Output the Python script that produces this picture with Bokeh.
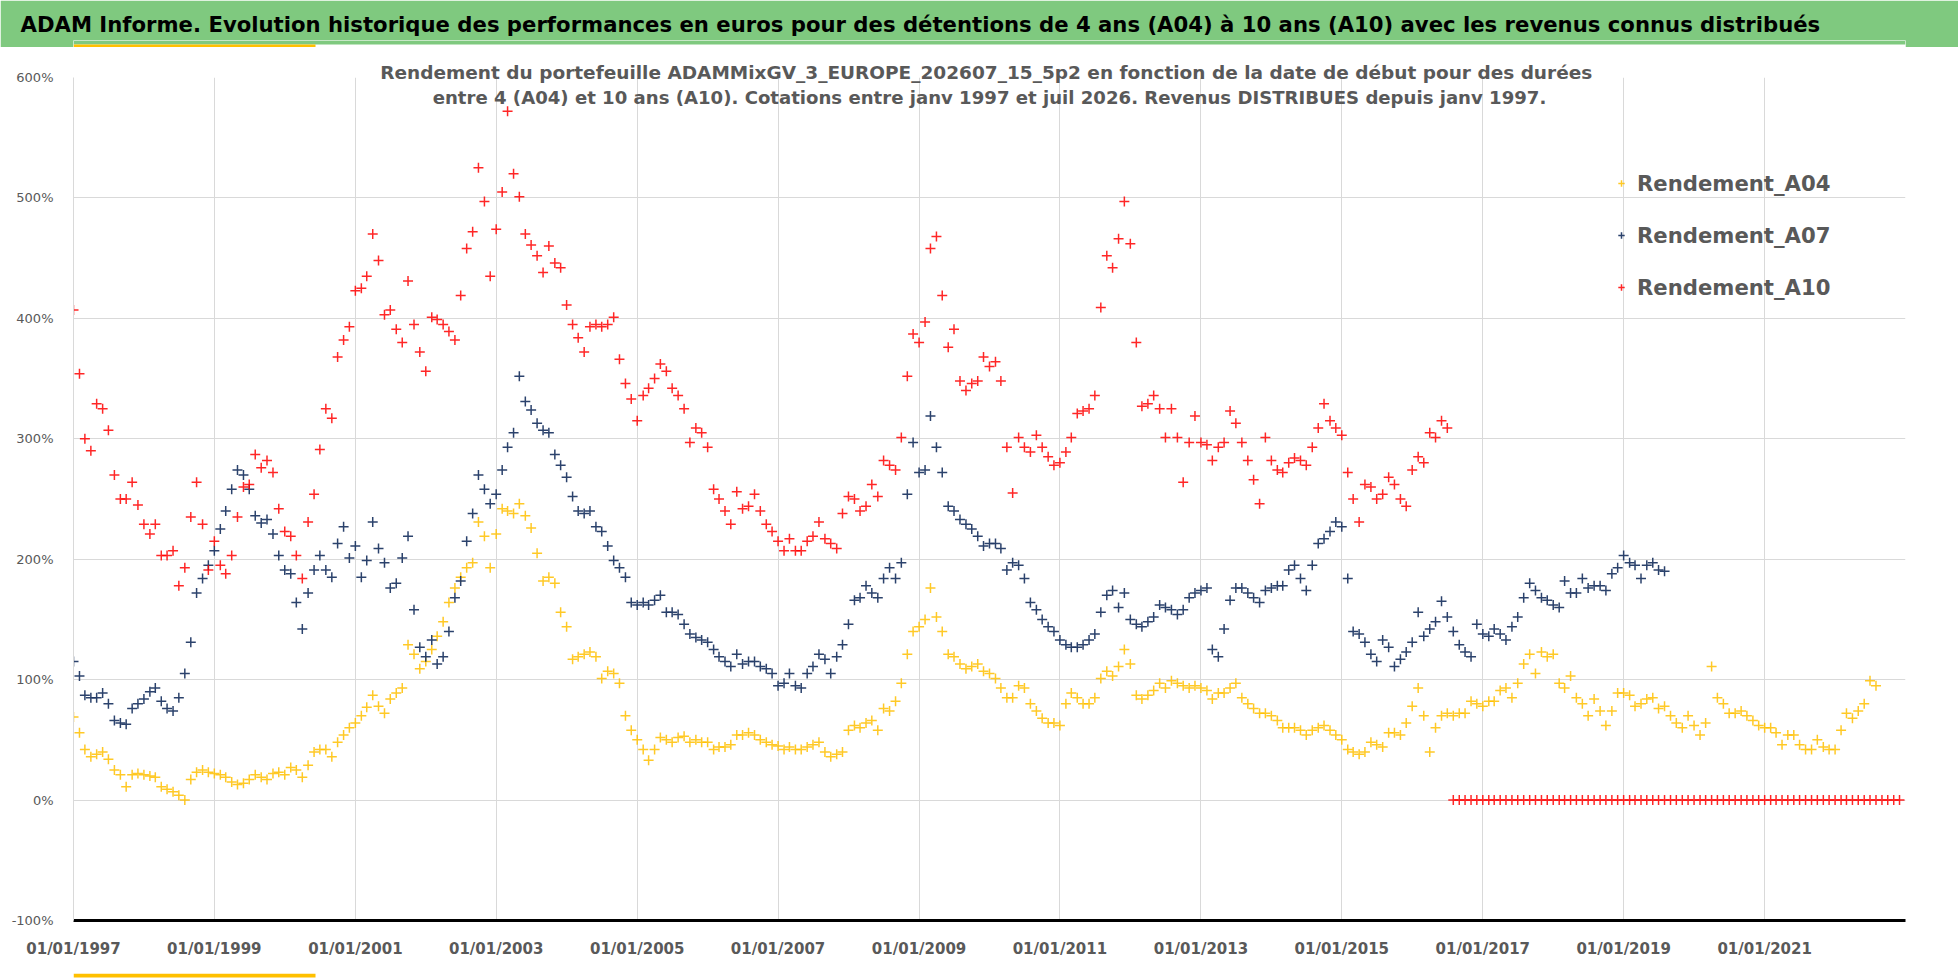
from datetime import datetime
import pandas as pd
from bokeh.plotting import figure
from bokeh.layouts import column
from bokeh.models import (Range1d, FixedTicker, DatetimeTickFormatter, PrintfTickFormatter,
                          Label, BoxAnnotation, Legend, LegendItem, ColumnDataSource, Title)
from bokeh.embed import file_html
from bokeh.resources import INLINE

TITLE = ("ADAM Informe. Evolution historique des performances en euros pour des détentions "
         "de 4 ans (A04) à 10 ans (A10) avec les revenus connus distribués")
SUB1 = ("Rendement du portefeuille ADAMMixGV_3_EUROPE_202607_15_5p2  en fonction de la date "
        "de début pour des durées")
SUB2 = ("entre 4 (A04) et 10 ans (A10). Cotations entre janv 1997 et juil 2026. "
        "Revenus DISTRIBUES depuis janv 1997.")
SERIES_NAMES = ["Rendement_A04", "Rendement_A07", "Rendement_A10"]
Y_TICKS = [-100, 0, 100, 200, 300, 400, 500, 600]
X_TICK_YEARS = [1997, 1999, 2001, 2003, 2005, 2007, 2009, 2011, 2013, 2015, 2017, 2019, 2021]
START = "1997-01-01"   # monthly start dates (first of month)

# Rendement A04 (%), monthly from Jan 1997 to Aug 2022
a04 = [
    69, 56, 42, 36, 38, 40, 34, 25, 21, 11, 21, 22,
    21, 20, 19, 11, 9, 7, 4, 0, 17, 23, 25, 23,
    22, 21, 19, 15, 13, 14, 17, 21, 19, 17, 22, 23,
    21, 27, 25, 19, 29, 40, 42, 42, 36, 48, 54, 60,
    64, 70, 77, 87, 78, 72, 84, 89, 93, 129, 121, 109,
    115, 125, 136, 148, 164, 176, 185, 193, 197, 231, 219, 193,
    221, 242, 240, 238, 246, 236, 226, 205, 182, 185, 180, 156,
    144, 117, 119, 121, 123, 119, 101, 107, 105, 97, 70, 58,
    50, 42, 33, 42, 52, 50, 48, 52, 53, 48, 50, 48,
    48, 42, 44, 44, 46, 54, 54, 56, 54, 50, 48, 46,
    45, 42, 44, 42, 42, 44, 46, 48, 40, 36, 38, 40,
    58, 62, 60, 64, 66, 58, 76, 74, 82, 97, 121, 140,
    144, 150, 176, 152, 140, 121, 119, 113, 109, 111, 113, 107,
    105, 101, 93, 85, 85, 95, 93, 80, 74, 68, 64, 64,
    62, 80, 89, 85, 80, 80, 85, 101, 107, 103, 111, 125,
    113, 87, 84, 87, 91, 97, 93, 99, 97, 95, 93, 95,
    93, 91, 84, 89, 89, 93, 97, 85, 80, 76, 72, 72,
    70, 66, 60, 60, 60, 58, 54, 58, 60, 62, 58, 54,
    50, 42, 40, 38, 40, 48, 46, 44, 56, 56, 54, 64,
    78, 93, 70, 40, 60, 70, 72, 70, 72, 72, 82, 80,
    78, 82, 82, 91, 93, 85, 97, 113, 121, 105, 123, 119,
    121, 97, 93, 103, 85, 80, 70, 84, 74, 62, 74, 89,
    89, 87, 78, 80, 84, 85, 76, 78, 70, 64, 60, 70,
    62, 54, 64, 111, 85, 80, 72, 72, 74, 70, 66, 62,
    60, 60, 56, 46, 54, 54, 46, 42, 42, 50, 44, 42,
    42, 58, 72, 68, 74, 80, 99, 95,
]

# Rendement A07 (%), monthly from Jan 1997 to Aug 2019
a07 = [
    115, 103, 87, 85, 85, 89, 80, 66, 64, 63, 76, 80,
    84, 90, 93, 82, 76, 74, 85, 105, 131, 172, 184, 195,
    207, 225, 240, 258, 274, 270, 258, 236, 230, 233, 221, 203,
    191, 188, 164, 142, 172, 191, 203, 191, 185, 213, 227, 201,
    211, 185, 199, 231, 209, 197, 176, 180, 201, 219, 158, 127,
    119, 133, 113, 119, 140, 168, 182, 215, 238, 270, 258, 246,
    254, 274, 293, 305, 352, 331, 324, 313, 307, 305, 287, 278,
    268, 252, 240, 238, 240, 227, 223, 211, 199, 193, 185, 164,
    162, 164, 162, 166, 170, 156, 156, 154, 146, 138, 135, 133,
    131, 125, 119, 115, 111, 121, 113, 115, 115, 111, 109, 105,
    95, 97, 105, 95, 93, 105, 111, 121, 117, 105, 119, 129,
    146, 166, 168, 178, 172, 168, 184, 193, 184, 197, 254, 297,
    272, 274, 319, 293, 272, 244, 240, 233, 229, 225, 219, 211,
    213, 213, 209, 191, 197, 195, 184, 164, 158, 150, 144, 140,
    133, 129, 127, 127, 129, 133, 138, 156, 170, 174, 160, 172,
    150, 146, 144, 148, 152, 162, 160, 158, 154, 158, 168, 172,
    174, 176, 125, 119, 142, 166, 176, 176, 172, 168, 164, 174,
    176, 178, 178, 191, 195, 184, 174, 195, 213, 217, 223, 231,
    227, 184, 140, 138, 131, 121, 115, 133, 127, 111, 117, 123,
    131, 156, 136, 142, 148, 165, 152, 140, 129, 123, 119, 146,
    138, 136, 142, 138, 133, 144, 152, 168, 180, 174, 168, 166,
    162, 160, 182, 172, 172, 184, 176, 178, 178, 174, 188, 193,
    203, 197, 195, 184, 195, 197, 191, 190,
]

# Rendement A10 (%), monthly from Jan 1997; zero from Aug 2016 to Dec 2022
a10 = [
    407, 354, 300, 290, 329, 325, 307, 270, 250, 250, 264, 245,
    229, 221, 229, 203, 203, 207, 178, 193, 235, 264, 229, 191,
    215, 195, 188, 203, 235, 260, 262, 287, 276, 282, 272, 242,
    223, 219, 203, 184, 231, 254, 291, 325, 317, 368, 382, 393,
    423, 425, 435, 470, 448, 403, 407, 391, 380, 431, 395, 372,
    356, 401, 399, 395, 389, 382, 419, 458, 472, 525, 497, 435,
    474, 505, 572, 520, 501, 470, 461, 452, 438, 460, 446, 442,
    411, 395, 384, 372, 393, 395, 393, 395, 401, 366, 346, 333,
    315, 336, 342, 350, 362, 356, 342, 336, 325, 297, 309, 305,
    293, 258, 250, 240, 229, 256, 242, 244, 254, 240, 229, 223,
    215, 207, 217, 207, 207, 215, 219, 231, 217, 213, 209, 238,
    252, 250, 240, 244, 262, 252, 282, 278, 274, 301, 352, 387,
    380, 397, 458, 468, 419, 376, 391, 348, 340, 346, 348, 368,
    360, 364, 348, 293, 255, 301, 293, 289, 303, 293, 285, 278,
    280, 289, 301, 321, 323, 325, 336, 409, 452, 442, 466, 497,
    462, 380, 327, 329, 336, 325, 301, 325, 301, 264, 297, 319,
    297, 295, 282, 293, 297, 323, 313, 297, 282, 266, 246, 301,
    282, 274, 272, 280, 284, 282, 278, 293, 309, 329, 315, 309,
    303, 272, 250, 231, 262, 260, 250, 254, 268, 262, 250, 244,
    274, 285, 280, 305, 301, 315, 309,
    0, 0, 0, 0, 0, 0, 0, 0, 0, 0, 0,
    0, 0, 0, 0, 0, 0, 0, 0, 0, 0, 0,
    0, 0, 0, 0, 0, 0, 0, 0, 0, 0, 0,
    0, 0, 0, 0, 0, 0, 0, 0, 0, 0, 0,
    0, 0, 0, 0, 0, 0, 0, 0, 0, 0, 0,
    0, 0, 0, 0, 0, 0, 0, 0, 0, 0, 0,
    0, 0, 0, 0, 0, 0, 0, 0, 0, 0, 0,
]

COLORS = ["#FFC000", "#203864", "#FF0000"]
ALPHAS = [0.85, 0.95, 0.85]
GRAY = "#595959"
GREEN = "#7fc97f"
YELLOW = "#ffc000"
FONT = "DejaVu Sans"
W = 1958
FX0, FX1 = 73, 1905   # plot frame left/right in page pixels (frames are aligned in the column)


def band(height, frame_h, border_color):
    f = figure(width=W, height=height, x_range=Range1d(FX0, FX1), y_range=Range1d(0, frame_h),
               title=None, x_axis_location=None, y_axis_location=None,
               min_border_left=0, min_border_right=0, min_border_top=height - frame_h,
               min_border_bottom=0,
               output_backend="svg", toolbar_location=None, outline_line_color=None,
               background_fill_color="white", border_fill_color=border_color)
    f.xgrid.visible = False
    f.ygrid.visible = False
    return f


def box(f, l, r, b, t, color):
    f.add_layout(BoxAnnotation(left=l, right=r, bottom=b, top=t, fill_color=color,
                               fill_alpha=1, line_color=None))


# ---------- header band (green title bar + yellow accent) ----------
head = band(47, 7, GREEN)
box(head, FX0, FX1, 3, 7, GREEN)
box(head, FX0, 315, 0, 3, YELLOW)
head.add_layout(Title(text=TITLE, align="left", offset=20 - FX0, standoff=8,
                      text_font=FONT, text_font_style="bold", text_font_size="21.2px",
                      text_color="black"), "above")

# ---------- main chart ----------
p = figure(width=W, height=923, x_axis_type="datetime", title=None,
           x_range=Range1d(datetime(1997, 1, 1), datetime(2023, 1, 1)),
           y_range=Range1d(-100, 600),
           output_backend="svg", toolbar_location=None,
           min_border_left=73, min_border_right=53, min_border_top=30, min_border_bottom=50,
           background_fill_color="white", border_fill_color="white", outline_line_color=None)

xticks = [pd.Timestamp(f"{y}-01-01").value // 10**6 for y in X_TICK_YEARS]
p.xaxis.ticker = FixedTicker(ticks=xticks)
p.xgrid.ticker = FixedTicker(ticks=xticks)
fmt = "%d/%m/%Y"
p.xaxis.formatter = DatetimeTickFormatter(days=fmt, months=fmt, years=fmt, hours=fmt,
                                          minutes=fmt, seconds=fmt, milliseconds=fmt,
                                          microseconds=fmt, minsec=fmt, hourmin=fmt)
p.yaxis.ticker = FixedTicker(ticks=Y_TICKS)
p.ygrid.ticker = FixedTicker(ticks=Y_TICKS)
p.yaxis.formatter = PrintfTickFormatter(format="%d%%")

for ax in (p.xaxis, p.yaxis):
    ax.major_tick_line_color = None
    ax.minor_tick_line_color = None
    ax.major_label_text_color = GRAY
    ax.major_label_text_font = FONT

p.xaxis.axis_line_color = "black"
p.xaxis.axis_line_width = 3
p.xaxis.major_label_text_font_size = "15px"
p.xaxis.major_label_text_font_style = "bold"
p.xaxis.major_label_standoff = 13

p.yaxis.axis_line_color = "#d9d9d9"
p.yaxis.major_label_text_font_size = "13px"
p.yaxis.major_label_standoff = 14

p.xgrid.grid_line_color = "#d9d9d9"
p.ygrid.grid_line_color = "#d9d9d9"

p.add_layout(Title(text=SUB1, align="center", standoff=-10,
                   text_font=FONT, text_font_style="bold", text_font_size="18.5px",
                   text_color=GRAY), "above")
p.add_layout(Label(x=916, y=823.5, x_units="screen", y_units="screen", text=SUB2,
                   text_font=FONT, text_font_style="bold", text_font_size="18.1px",
                   text_color=GRAY, text_baseline="alphabetic", text_align="center"))

renderers = []
for vals, color, alpha in zip([a04, a07, a10], COLORS, ALPHAS):
    dates = pd.date_range(START, periods=len(vals), freq="MS")
    src = ColumnDataSource(dict(x=dates, y=vals))
    r = p.scatter("x", "y", source=src, marker="cross", size=10, line_color=color,
                  line_width=1.5, line_alpha=alpha)
    renderers.append(r)

legend = Legend(items=[LegendItem(label=n, renderers=[r]) for n, r in zip(SERIES_NAMES, renderers)],
                location=(1540, 618), padding=0, margin=0, spacing=22,
                glyph_height=30, glyph_width=16, label_height=30, label_standoff=8,
                label_text_font=FONT, label_text_font_style="bold",
                label_text_font_size="21.2px", label_text_color=GRAY,
                border_line_color=None, background_fill_alpha=0.0)
p.add_layout(legend)

# ---------- footer accent ----------
foot = band(9, 9, "white")
box(foot, FX0, 315, 5, 9, YELLOW)

page = column(head, p, foot, spacing=0)
open("out.html", "w").write(file_html(page, INLINE))
